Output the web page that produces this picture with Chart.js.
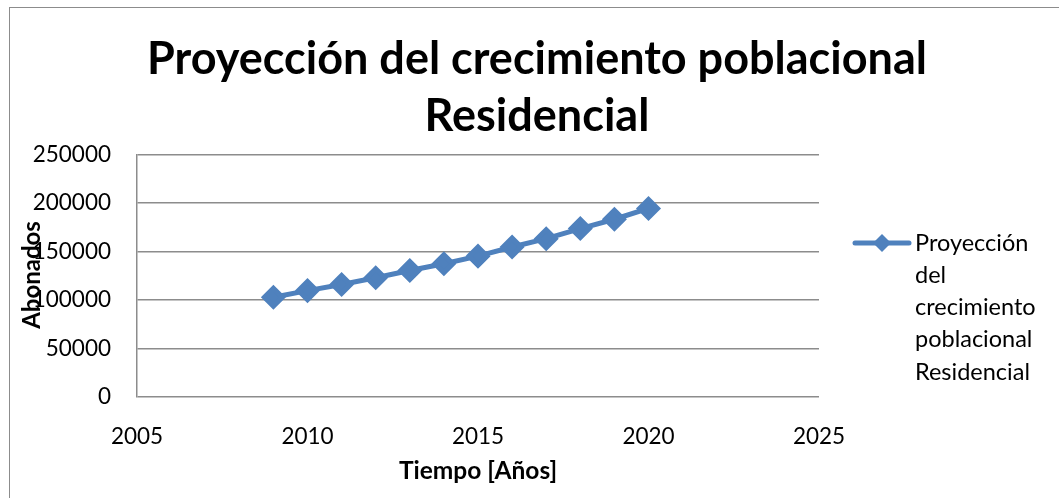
<!DOCTYPE html>
<html>
<head>
<meta charset="utf-8">
<script src="https://cdn.jsdelivr.net/npm/chart.js@4"></script>
<style>
  html, body { margin:0; padding:0; background:#fff; }
  #wrap { width:1059px; height:498px; }
</style>
</head>
<body>
<div id="wrap"><canvas id="chart" width="1059" height="498"></canvas></div>
<script>
const years = [2009, 2010, 2011, 2012, 2013, 2014, 2015, 2016, 2017, 2018, 2019, 2020];
const abonados = [102700, 109600, 115800, 122800, 130300, 137300, 145100, 154500, 163100, 173500, 183100, 194200];
const seriesName = "Proyección del crecimiento poblacional Residencial";
const legendLines = ["Proyección", "del", "crecimiento", "poblacional", "Residencial"];
const titleLines = ["Proyección del crecimiento poblacional", "Residencial"];
const xTicks = [2005, 2010, 2015, 2020, 2025];
const yTicks = [0, 50000, 100000, 150000, 200000, 250000];

const FONT = "Lato, 'Open Sans', sans-serif";
const BLUE = "#4F81BD";

// border, y title and the wrapped legend are drawn by hand
const extras = {
  id: "extras",
  afterDraw(chart){
    const ctx = chart.ctx;
    ctx.save();
    ctx.strokeStyle = "#8c8c8c";
    ctx.lineWidth = 1;
    ctx.strokeRect(9.5, 7.5, 1200, 700);

    ctx.fillStyle = "#000";
    ctx.font = "bold 24px " + FONT;
    ctx.textAlign = "center";
    ctx.textBaseline = "middle";
    ctx.translate(32, 275);
    ctx.rotate(-Math.PI/2);
    ctx.fillText("Abonados", 0, 0);
    ctx.restore();

    // legend
    const ds = chart.data.datasets[0];
    const lx = 855, ly = 243;
    ctx.save();
    ctx.strokeStyle = ds.borderColor;
    ctx.lineWidth = 5;
    ctx.lineCap = "round";
    ctx.beginPath();
    ctx.moveTo(lx, ly);
    ctx.lineTo(lx + 54, ly);
    ctx.stroke();
    ctx.fillStyle = ds.backgroundColor;
    ctx.beginPath();
    ctx.moveTo(lx + 27, ly - 9);
    ctx.lineTo(lx + 36, ly);
    ctx.lineTo(lx + 27, ly + 9);
    ctx.lineTo(lx + 18, ly);
    ctx.closePath();
    ctx.fill();
    ctx.fillStyle = "#000";
    ctx.font = "23.5px " + FONT;
    ctx.textAlign = "left";
    ctx.textBaseline = "middle";
    legendLines.forEach((t, i) => ctx.fillText(t, 915, ly + i * 32.3));
    ctx.restore();
  }
};

new Chart(document.getElementById("chart"), {
  type: "line",
  data: {
    datasets: [{
      label: seriesName,
      data: years.map((y, i) => ({x: y, y: abonados[i]})),
      borderColor: BLUE,
      backgroundColor: BLUE,
      borderWidth: 5,
      pointStyle: "rectRot",
      pointRadius: 9,
      pointHoverRadius: 9,
      tension: 0
    }]
  },
  options: {
    responsive: false,
    animation: false,
    events: [],
    layout: { padding: { left: 15, right: 0, top: 0, bottom: 12 } },
    plugins: {
      legend: { display: false },
      tooltip: { enabled: false },
      title: {
        display: true,
        text: titleLines,
        color: "#000",
        font: { family: FONT, size: 45, weight: "bold", lineHeight: 1.27 },
        padding: { top: 31, bottom: 9 }
      }
    },
    scales: {
      x: {
        type: "linear",
        min: 2005, max: 2025,
        afterBuildTicks: s => { s.ticks = xTicks.map(v => ({value: v})); },
        afterFit: s => { s.height = 89; },
        ticks: { color: "#000", font: { family: FONT, size: 22.5 }, padding: 18, callback: v => String(v) },
        grid: { display: false },
        border: { display: false },
        title: { display: true, text: "Tiempo [Años]", color: "#000", font: { family: FONT, size: 24.5, weight: "bold" }, padding: { top: 4, bottom: 0 } }
      },
      y: {
        min: 0, max: 250000,
        afterBuildTicks: s => { s.ticks = yTicks.map(v => ({value: v})); },
        afterFit: s => { s.width = 122; },
        ticks: { color: "#000", font: { family: FONT, size: 22.5 }, padding: 26, callback: v => String(v) },
        grid: { color: "#8c8c8c", lineWidth: 1.5, drawTicks: false },
        border: { display: true, color: "#8c8c8c", width: 1.5 }
      },
      // empty axis that only reserves the legend column on the right
      side: {
        position: "right",
        min: 0, max: 1,
        afterFit: s => { s.width = 240; },
        ticks: { display: false },
        grid: { display: false, drawTicks: false },
        border: { display: false }
      }
    }
  },
  plugins: [extras]
});
</script>
</body>
</html>
